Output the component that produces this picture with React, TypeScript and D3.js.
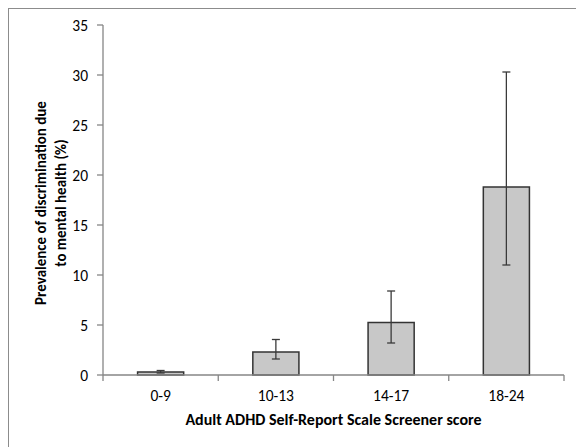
import React from 'react'
import * as d3 from 'd3'

const categories = ['0-9', '10-13', '14-17', '18-24']
const prevalence = [0.3, 2.3, 5.25, 18.8]
const errLow = [0.2, 1.6, 3.2, 11.0]
const errHigh = [0.45, 3.55, 8.4, 30.3]
const yTicks = [0, 5, 10, 15, 20, 25, 30, 35]

const W = 576
const H = 447
const font = "Carlito, Calibri, Lato, 'Open Sans', sans-serif"
const axisColor = '#868686'

export default function App() {
  const x = d3.scaleBand().domain(categories).range([103, 564]).paddingInner(0).paddingOuter(0)
  const y = d3.scaleLinear().domain([0, 35]).range([375, 25])
  const barW = x.bandwidth() * 0.4
  const cap = 4

  return (
    <svg
      width={W}
      height={H}
      style={{ position: 'absolute', left: 0, top: 0, background: '#fff' }}
      fontFamily={font}
    >
      {/* chart frame, clipped on the right and bottom */}
      <rect x={8.5} y={8.5} width={W} height={H} fill="none" stroke="#8c8c8c" strokeWidth={1} />

      {/* bars */}
      {categories.map((c, i) => {
        const cx = x(c)! + x.bandwidth() / 2
        return (
          <g key={c}>
            <rect
              x={cx - barW / 2}
              y={y(prevalence[i])}
              width={barW}
              height={y(0) - y(prevalence[i])}
              fill="#c8c8c8"
              stroke="#333"
              strokeWidth={1.5}
            />
            <line x1={cx} x2={cx} y1={y(errLow[i])} y2={y(errHigh[i])} stroke="#3a3a3a" strokeWidth={1.3} />
            <line x1={cx - cap} x2={cx + cap} y1={y(errHigh[i])} y2={y(errHigh[i])} stroke="#3a3a3a" strokeWidth={1.3} />
            <line x1={cx - cap} x2={cx + cap} y1={y(errLow[i])} y2={y(errLow[i])} stroke="#3a3a3a" strokeWidth={1.3} />
          </g>
        )
      })}

      {/* y axis */}
      <line x1={103} x2={103} y1={y(35)} y2={y(0)} stroke={axisColor} strokeWidth={1.3} />
      {yTicks.map((t) => (
        <g key={t}>
          <line x1={97} x2={103} y1={y(t)} y2={y(t)} stroke={axisColor} strokeWidth={1.3} />
          <text x={88} y={y(t)} dy="0.36em" textAnchor="end" fontSize={15.5} fill="#000">
            {t}
          </text>
        </g>
      ))}

      {/* x axis */}
      <line x1={103} x2={564} y1={y(0)} y2={y(0)} stroke={axisColor} strokeWidth={1.3} />
      {[...categories.map((c) => x(c)!), 564].map((p, i) => (
        <line key={i} x1={p} x2={p} y1={y(0)} y2={y(0) + 6} stroke={axisColor} strokeWidth={1.3} />
      ))}
      {categories.map((c) => (
        <text key={c} x={x(c)! + x.bandwidth() / 2} y={401} textAnchor="middle" fontSize={15.5} fill="#000">
          {c}
        </text>
      ))}

      {/* axis titles */}
      <text x={333.5} y={425} textAnchor="middle" fontSize={16} fontWeight="bold" fill="#000">
        Adult ADHD Self-Report Scale Screener score
      </text>
      <g transform="translate(46,203) rotate(-90)">
        <text x={0} y={0} textAnchor="middle" fontSize={15} fontWeight="bold" fill="#000">
          Prevalence of discrimination due
        </text>
        <text x={0} y={20} textAnchor="middle" fontSize={15} fontWeight="bold" fill="#000">
          to mental health (%)
        </text>
      </g>
    </svg>
  )
}
